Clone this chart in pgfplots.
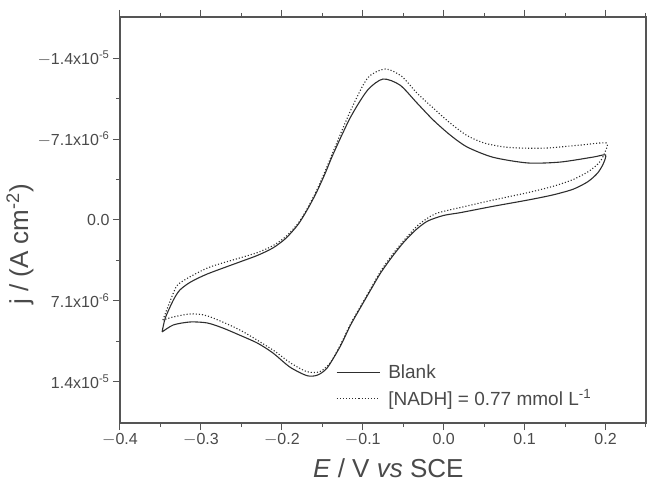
\documentclass[border=0pt]{standalone}
\usepackage{fontspec}
\setmainfont{Liberation Sans}
\usepackage{pgfplots}
\pgfplotsset{compat=1.18}
\definecolor{curve}{HTML}{2E2E2E}
\definecolor{axisc}{HTML}{555555}
\definecolor{labc}{HTML}{4A4A4A}
\begin{document}
\begin{tikzpicture}
\useasboundingbox (-120pt,-71pt) rectangle (528pt,423pt);
\begin{axis}[
  at={(0pt,0pt)}, anchor=south west,
  width=526pt, height=406pt, scale only axis,
  xmin=-0.4, xmax=0.25,
  ymin=-1.78e-5, ymax=1.78e-5,
  y dir=reverse,
  scaled y ticks=false, scaled x ticks=false,
  axis line style={axisc, line width=1.2pt},
  every tick/.style={axisc, line width=1pt},
  tick align=outside,
  major tick length=7pt, minor tick length=4pt,
  xtick pos=both, ytick pos=left,
  xtick={-0.4,-0.3,-0.2,-0.1,0,0.1,0.2},
  xticklabels={$-$0.4,$-$0.3,$-$0.2,$-$0.1,0.0,0.1,0.2},
  minor xtick={-0.35,-0.25,-0.15,-0.05,0.05,0.15,0.25},
  ytick={-1.42e-5,-7.1e-6,0,7.1e-6,1.42e-5},
  yticklabels={$-$1.4x10\textsuperscript{-5},$-$7.1x10\textsuperscript{-6},0.0,7.1x10\textsuperscript{-6},1.4x10\textsuperscript{-5}},
  minor ytick={-1.065e-5,-3.55e-6,3.55e-6,1.065e-5},
  ticklabel style={font=\fontsize{16}{18}\selectfont, text=labc},
  xlabel={\textit{E} / V \textit{vs} SCE},
  ylabel={j / (A cm\textsuperscript{-2})},
  label style={font=\fontsize{26}{30}\selectfont, text=labc},
  xlabel style={at={(axis description cs:0.51,-0.08)}, anchor=north},
  ylabel style={at={(axis description cs:-0.19,0.44)}, anchor=center},
  legend style={draw=none, fill=none, at={(axis description cs:0.405,0.03)}, anchor=south west,
    font=\fontsize{19}{22}\selectfont, text=labc, row sep=6pt},
  legend cell align=left,
  legend image code/.code={\draw[#1, line width=1pt] (0pt,0pt) -- (43pt,0pt); \path (49pt,0pt);},
]
\addplot[curve, line width=1.1pt, smooth, tension=0.45] coordinates {
(-0.348,9.82e-6) (-0.344,8.59e-6) (-0.334,7.01e-6) (-0.326,6.14e-6) (-0.313,5.45e-6)
(-0.292,4.73e-6) (-0.252,3.68e-6) (-0.230,3.10e-6) (-0.211,2.45e-6) (-0.195,1.60e-6)
(-0.180,0.40e-6) (-0.169,-0.85e-6) (-0.158,-2.30e-6) (-0.147,-4.00e-6) (-0.136,-5.87e-6)
(-0.115,-9.03e-6) (-0.094,-11.39e-6)
(-0.075,-12.36e-6) (-0.054,-11.83e-6) (-0.033,-10.26e-6) (-0.013,-8.77e-6) (0.008,-7.45e-6)
(0.029,-6.40e-6) (0.061,-5.50e-6) (0.104,-5.00e-6) (0.144,-5.08e-6) (0.185,-5.52e-6)
(0.200,-5.70e-6)
(0.197,-4.90e-6) (0.190,-4.10e-6) (0.178,-3.35e-6) (0.160,-2.70e-6) (0.135,-2.20e-6)
(0.104,-1.75e-6) (0.061,-1.20e-6) (0.021,-0.65e-6) (0.000,-0.40e-6) (-0.020,0.10e-6)
(-0.035,0.90e-6) (-0.050,2.00e-6) (-0.064,3.25e-6) (-0.078,4.65e-6) (-0.090,6.10e-6)
(-0.103,7.70e-6) (-0.115,9.20e-6)
(-0.128,11.1e-6) (-0.144,12.97e-6) (-0.156,13.6e-6) (-0.169,13.65e-6) (-0.190,12.9e-6)
(-0.211,11.66e-6) (-0.230,10.8e-6) (-0.252,10.1e-6) (-0.273,9.47e-6) (-0.292,9.03e-6)
(-0.313,8.94e-6) (-0.334,9.2e-6) (-0.348,9.82e-6)
};
\addlegendentry{Blank}
\addplot[curve, line width=1.1pt, dotted, smooth, tension=0.45] coordinates {
(-0.347,8.77e-6) (-0.334,6.40e-6) (-0.326,5.52e-6) (-0.292,4.21e-6) (-0.252,3.33e-6)
(-0.230,2.85e-6) (-0.211,2.25e-6) (-0.195,1.45e-6) (-0.180,0.30e-6) (-0.169,-0.95e-6)
(-0.158,-2.45e-6) (-0.147,-4.20e-6)
(-0.136,-6.1e-6) (-0.115,-9.6e-6) (-0.094,-12.45e-6) (-0.072,-13.24e-6) (-0.052,-12.6e-6)
(-0.033,-11.13e-6) (-0.013,-9.82e-6) (0.008,-8.50e-6) (0.029,-7.40e-6) (0.050,-6.75e-6)
(0.075,-6.40e-6) (0.100,-6.30e-6) (0.128,-6.31e-6) (0.169,-6.57e-6) (0.201,-6.75e-6)
(0.199,-5.90e-6) (0.193,-5.10e-6) (0.180,-4.30e-6) (0.160,-3.55e-6) (0.135,-2.95e-6)
(0.104,-2.40e-6) (0.061,-1.75e-6) (0.021,-1.10e-6) (-0.010,-0.55e-6) (-0.030,0.35e-6)
(-0.045,1.45e-6) (-0.062,2.90e-6)
(-0.078,4.5e-6) (-0.090,6.0e-6) (-0.103,7.6e-6) (-0.115,9.1e-6) (-0.128,11.0e-6) (-0.140,12.5e-6)
(-0.153,13.3e-6) (-0.169,13.3e-6) (-0.190,12.5e-6) (-0.211,11.4e-6) (-0.252,9.64e-6)
(-0.292,8.41e-6) (-0.313,8.24e-6) (-0.334,8.50e-6) (-0.347,8.77e-6)
};
\addlegendentry{[NADH] = 0.77 mmol L\textsuperscript{-1}}
\end{axis}
\end{tikzpicture}
\end{document}
